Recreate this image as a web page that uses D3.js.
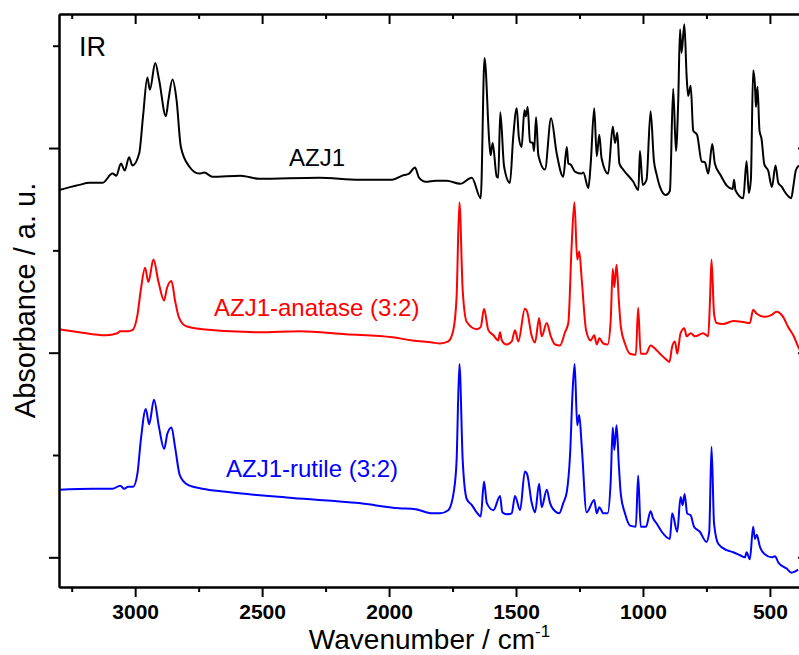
<!DOCTYPE html>
<html>
<head>
<meta charset="utf-8">
<script src="https://cdn.jsdelivr.net/npm/d3@7"></script>
<style>
    body { margin: 0; background: #fff; }
    svg { display: block; font-family: Arial, "Liberation Sans", sans-serif; }
</style>
</head>
<body>
<div id="chart"></div>
<script>
// AZJ1 (black)
const azj1Wn = [3300,3220,3181,3129,3089,3074,3056,3041,3024,3011,2984,2969,2952,2942,2921,2906,2879,2869,2853,2837,2820,2787,2748,2728,2696,2584,2512,2276,2118,1987,1948,1921,1898,1882,1856,1816,1773,1720,1674,1639,1624,1605,1600,1592,1576,1570,1562,1547,1524,1511,1497,1489,1478,1467,1461,1454,1445,1434,1429,1421,1412,1386,1362,1340,1314,1300,1294,1285,1268,1241,1235,1215,1206,1192,1182,1172,1163,1137,1119,1110,1101,1093,1078,1038,1018,1012,1001,986,970,957,946,933,910,894,881,870,861,854,848,837,828,822,812,802,787,769,756,743,727,717,693,669,647,641,636,605,592,583,575,566,559,555,549,541,533,522,507,492,478,467,453,441,428,416,408,398,386];
const azj1Abs = [3.59,3.64,3.66,3.66,3.75,3.73,3.85,3.78,3.91,3.83,3.95,4.31,4.69,4.57,4.83,4.67,4.31,4.47,4.67,4.47,4.01,3.82,3.75,3.76,3.72,3.73,3.70,3.71,3.69,3.69,3.73,3.75,3.81,3.71,3.67,3.68,3.68,3.65,3.71,3.51,4.88,4.05,3.93,4.05,3.72,3.71,4.35,3.82,3.66,4.11,4.39,4.11,4.01,4.37,4.31,4.40,4.06,4.05,3.97,4.30,3.93,3.79,4.29,3.95,3.72,4.01,3.85,3.84,3.77,3.75,3.76,3.61,3.84,4.39,3.92,4.13,3.90,3.75,4.21,4.05,4.15,3.85,3.79,3.67,3.59,3.97,3.64,3.69,4.36,3.88,3.74,3.62,3.54,3.58,4.58,3.97,4.47,5.16,4.93,5.21,4.70,4.51,4.61,4.17,4.13,3.87,3.86,3.75,4.04,3.85,3.73,3.63,3.60,3.69,3.59,3.51,3.87,3.56,3.69,4.76,4.62,4.40,4.60,4.17,4.09,3.84,3.78,3.62,3.83,3.66,3.62,3.57,3.53,3.51,3.62,3.78,3.83];

// AZJ1-anatase (red)
const anataseWn = [3300,3220,3115,3070,3059,3028,3011,2991,2978,2961,2948,2928,2908,2886,2875,2857,2843,2827,2800,2735,2512,2354,2170,1987,1908,1830,1799,1767,1747,1734,1723,1710,1694,1655,1639,1626,1609,1589,1570,1563,1556,1537,1517,1504,1491,1465,1456,1438,1425,1409,1399,1379,1363,1346,1327,1307,1294,1281,1270,1259,1251,1241,1224,1206,1192,1182,1172,1156,1139,1127,1119,1113,1104,1095,1087,1071,1051,1028,1019,1009,988,970,953,933,907,896,885,874,865,852,837,828,812,795,763,743,736,730,720,710,684,644,605,579,566,552,520,493,474,448,428,408,389,383];
const anataseAbs = [2.23,2.20,2.17,2.19,2.21,2.21,2.22,2.37,2.61,2.83,2.69,2.91,2.69,2.51,2.63,2.70,2.51,2.34,2.26,2.23,2.20,2.21,2.18,2.15,2.12,2.10,2.09,2.11,2.22,2.55,3.47,2.61,2.30,2.23,2.25,2.43,2.22,2.17,2.12,2.20,2.12,2.08,2.11,2.22,2.11,2.43,2.40,2.16,2.10,2.34,2.16,2.29,2.16,2.08,2.07,2.20,2.29,3.04,3.47,2.91,2.99,2.71,2.22,2.12,2.17,2.08,2.14,2.09,2.08,2.32,2.82,2.64,2.86,2.51,2.25,2.09,1.99,1.98,2.44,1.99,1.99,2.07,2.04,1.99,1.93,1.91,2.06,2.11,1.99,2.19,2.24,2.16,2.19,2.16,2.19,2.16,2.51,2.91,2.38,2.29,2.28,2.31,2.30,2.29,2.42,2.38,2.35,2.37,2.40,2.35,2.25,2.17,2.06,2.03];

// AZJ1-rutile (blue)
const rutileWn = [3300,3168,3089,3059,3043,3028,3008,2991,2978,2958,2945,2926,2906,2886,2873,2857,2843,2824,2794,2735,2643,2381,2118,1961,1895,1830,1799,1767,1744,1734,1723,1710,1694,1674,1655,1639,1626,1615,1589,1563,1554,1537,1517,1504,1484,1465,1456,1438,1425,1409,1399,1379,1366,1346,1330,1314,1300,1287,1277,1269,1259,1251,1241,1222,1192,1182,1172,1156,1139,1127,1119,1113,1104,1095,1087,1071,1051,1028,1019,1009,988,970,960,946,926,894,885,865,852,844,836,826,812,799,776,750,739,730,720,703,670,644,618,598,592,579,566,559,552,539,520,493,480,467,434,415,402,389];
const rutileAbs = [0.66,0.67,0.67,0.70,0.67,0.69,0.69,0.82,1.14,1.45,1.30,1.54,1.27,1.06,1.21,1.27,1.08,0.80,0.71,0.67,0.64,0.58,0.53,0.48,0.47,0.43,0.43,0.46,0.66,0.95,1.89,0.95,0.57,0.51,0.44,0.40,0.74,0.53,0.46,0.60,0.44,0.42,0.43,0.60,0.46,0.84,0.81,0.53,0.44,0.72,0.49,0.66,0.53,0.45,0.43,0.53,0.64,1.01,1.63,1.89,1.29,1.39,1.08,0.44,0.56,0.43,0.49,0.43,0.43,0.75,1.27,1.05,1.29,0.90,0.61,0.43,0.31,0.30,0.80,0.30,0.30,0.45,0.38,0.33,0.25,0.18,0.43,0.25,0.59,0.51,0.62,0.43,0.41,0.30,0.25,0.15,0.25,1.08,0.33,0.13,0.07,0.05,0.02,0.00,0.05,-0.02,0.30,0.18,0.22,0.10,0.03,0.00,0.01,-0.05,-0.11,-0.15,-0.14,-0.12];

const xMajor = [3000, 2500, 2000, 1500, 1000, 500];
const xMinor = [3250, 2750, 2250, 1750, 1250, 750];
const yMajor = [0, 2, 4];
const yMinor = [1, 3, 5];

const seriesNames = ["AZJ1", "AZJ1-anatase (3:2)", "AZJ1-rutile (3:2)"];
const seriesColors = ["#000000", "#ff0000", "#0000ff"];

const width = 799;
const height = 655;
const plotLeft = 59, plotRight = 808, plotTop = 14, plotBottom = 587;

const svg = d3.select("#chart")
    .append("svg")
    .attr("width", width)
    .attr("height", height);

const x = d3.scaleLinear()
    .domain([3300, 350])
    .range([plotLeft, plotRight]);

const y = d3.scaleLinear()
    .domain([-0.29, 5.31])
    .range([plotBottom, plotTop]);

// clip the traces to the frame
svg.append("clipPath")
    .attr("id", "plot-clip")
    .append("rect")
    .attr("x", plotLeft)
    .attr("y", plotTop)
    .attr("width", plotRight - plotLeft)
    .attr("height", plotBottom - plotTop);

const line = d3.line()
    .x(function(d) { return x(d[0]); })
    .y(function(d) { return y(d[1]); })
    .curve(d3.curveMonotoneX);

const allSeries = [
    d3.zip(azj1Wn, azj1Abs),
    d3.zip(anataseWn, anataseAbs),
    d3.zip(rutileWn, rutileAbs)
];

svg.append("g")
    .attr("clip-path", "url(#plot-clip)")
    .selectAll("path")
    .data(allSeries)
    .enter()
    .append("path")
    .attr("d", line)
    .attr("fill", "none")
    .attr("stroke", function(d, i) { return seriesColors[i]; })
    .attr("stroke-width", 2)
    .attr("stroke-linejoin", "round");

// axes
function styleAxis(g) {
    g.select(".domain").attr("stroke", "#000").attr("stroke-width", 2);
    g.selectAll(".tick line").attr("stroke", "#000").attr("stroke-width", 2);
}

svg.append("g")
    .attr("transform", "translate(0," + plotBottom + ")")
    .call(d3.axisBottom(x).tickValues(xMajor).tickSizeInner(10).tickSizeOuter(0).tickPadding(7).tickFormat(d3.format("d")))
    .call(styleAxis)
    .selectAll("text")
    .attr("font-size", 21)
    .attr("font-weight", "bold")
    .attr("font-family", "Arial, 'Liberation Sans', sans-serif")
    .attr("fill", "#000");

svg.append("g")
    .attr("transform", "translate(0," + plotBottom + ")")
    .call(d3.axisBottom(x).tickValues(xMinor).tickSizeInner(5).tickSizeOuter(0).tickFormat(""))
    .call(styleAxis);

// top: ticks point inward
svg.append("g")
    .attr("transform", "translate(0," + plotTop + ")")
    .call(d3.axisBottom(x).tickValues(xMajor).tickSizeInner(10).tickSizeOuter(0).tickFormat(""))
    .call(styleAxis);

svg.append("g")
    .attr("transform", "translate(0," + plotTop + ")")
    .call(d3.axisBottom(x).tickValues(xMinor).tickSizeInner(5).tickSizeOuter(0).tickFormat(""))
    .call(styleAxis);

svg.append("g")
    .attr("transform", "translate(" + plotLeft + ",0)")
    .call(d3.axisLeft(y).tickValues(yMajor).tickSizeInner(10).tickSizeOuter(0).tickFormat(""))
    .call(styleAxis);

svg.append("g")
    .attr("transform", "translate(" + plotLeft + ",0)")
    .call(d3.axisLeft(y).tickValues(yMinor).tickSizeInner(6).tickSizeOuter(0).tickFormat(""))
    .call(styleAxis);

// right: ticks point inward
svg.append("g")
    .attr("transform", "translate(" + plotRight + ",0)")
    .call(d3.axisLeft(y).tickValues(yMajor).tickSizeInner(10).tickSizeOuter(0).tickFormat(""))
    .call(styleAxis);

svg.append("g")
    .attr("transform", "translate(" + plotRight + ",0)")
    .call(d3.axisLeft(y).tickValues(yMinor).tickSizeInner(5).tickSizeOuter(0).tickFormat(""))
    .call(styleAxis);

// series labels
const labelPos = [[289, 166], [214, 316], [226, 477]];

svg.selectAll(".series-label")
    .data(seriesNames)
    .enter()
    .append("text")
    .attr("class", "series-label")
    .attr("x", function(d, i) { return labelPos[i][0]; })
    .attr("y", function(d, i) { return labelPos[i][1]; })
    .attr("font-size", 24)
    .attr("fill", function(d, i) { return seriesColors[i]; })
    .text(function(d) { return d; });

svg.append("text")
    .attr("x", 79)
    .attr("y", 56)
    .attr("font-size", 27)
    .attr("fill", "#000")
    .text("IR");

// axis titles
const xTitle = svg.append("text")
    .attr("x", (plotLeft + plotRight) / 2 - 4)
    .attr("y", 649)
    .attr("text-anchor", "middle")
    .attr("font-size", 28)
    .attr("fill", "#000");

xTitle.append("tspan").text("Wavenumber / cm");
xTitle.append("tspan")
    .attr("font-size", 17)
    .attr("dy", -12)
    .text("-1");

svg.append("text")
    .attr("transform", "translate(35," + ((plotTop + plotBottom) / 2) + ") rotate(-90)")
    .attr("text-anchor", "middle")
    .attr("font-size", 29)
    .attr("fill", "#000")
    .text("Absorbance / a. u.");
</script>
</body>
</html>
